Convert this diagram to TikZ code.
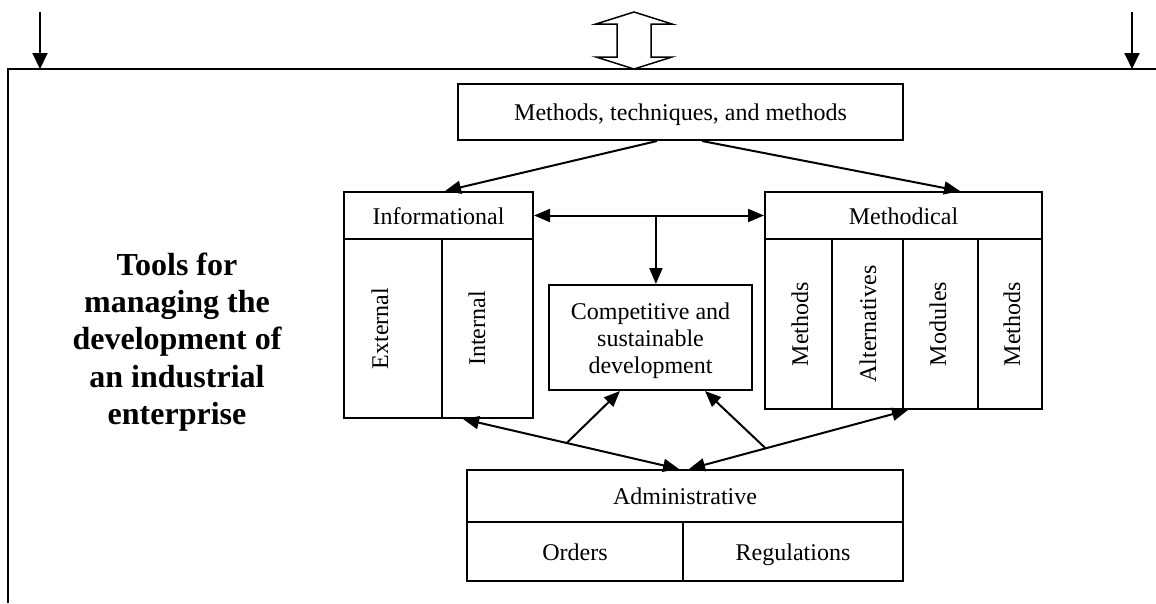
\documentclass[tikz,border=0pt]{standalone}
\usepackage{fontspec}
\setmainfont{Liberation Serif}
\usetikzlibrary{arrows.meta,calc}
\begin{document}
\begin{tikzpicture}[x=1pt,y=-1pt,
  cell/.style={draw, line width=2pt, inner sep=0pt, align=center, font=\fontsize{24}{27}\selectfont},
  one/.style={text height=18pt, text depth=1pt},
  txt/.style={inner sep=0pt, font=\fontsize{24}{27}\selectfont},
  tip/.tip={Triangle[length=16pt,width=13pt]},
  arr/.style={line width=2pt, -tip},
  darr/.style={line width=2pt, tip-tip},
  frame/.style={line width=2pt}]
\useasboundingbox (0,0) rectangle (1156,603);
% outer frame
\coordinate (FB) at (8,603);
\coordinate (FTL) at (8,69);
\coordinate (FTR) at (1156,69);
\draw[frame] (FB) -- (FTL) -- (FTR);
% top arrows
\coordinate (LA) at (40,12);
\coordinate (LB) at (40,69);
\coordinate (RA) at (1132,12);
\coordinate (RB) at (1132,69);
\draw[arr, -{Triangle[length=16pt,width=15pt]}] (LA) -- (LB);
\draw[arr, -{Triangle[length=16pt,width=15pt]}] (RA) -- (RB);
% hollow double arrow
\draw[line width=1.5pt, fill=white, line join=miter] (634,12) -- (672,24) -- (651,24) -- (651,57) -- (672,57) -- (634,69) -- (596,57) -- (617,57) -- (617,24) -- (596,24) -- cycle;
% title
\node[inner sep=0pt, align=center, font=\fontsize{32}{37.25}\selectfont\bfseries] (T) at (177,342) {Tools for\\managing the\\development of\\an industrial\\enterprise};
% top box
\node[cell, one, minimum width=445pt, minimum height=56pt] (TB) at (680.5,112) {Methods, techniques, and methods};
% informational
\node[cell, one, minimum width=189pt, minimum height=47pt] (IH) at (438.5,215.5) {Informational};
\node[cell, minimum width=98pt, minimum height=179pt] (EX) at (393,328.5) {};
\node[cell, minimum width=91pt, minimum height=179pt] (IN) at (487.5,328.5) {};
\node[txt, rotate=90] (EXt) at (380,328.5) {External};
\node[txt, rotate=90] (INt) at (477,328.5) {Internal};
% methodical
\node[cell, one, minimum width=277pt, minimum height=47pt] (MH) at (903.5,215.5) {Methodical};
\node[cell, minimum width=67pt, minimum height=170pt] (M1) at (798.5,324) {};
\node[cell, minimum width=71pt, minimum height=170pt] (M2) at (867.5,324) {};
\node[cell, minimum width=75pt, minimum height=170pt] (M3) at (940.5,324) {};
\node[cell, minimum width=64pt, minimum height=170pt] (M4) at (1010,324) {};
\node[txt, rotate=90] (M1t) at (800,324) {Methods};
\node[txt, rotate=90] (M2t) at (868,324) {Alternatives};
\node[txt, rotate=90] (M3t) at (938,324) {Modules};
\node[txt, rotate=90] (M4t) at (1012,324) {Methods};
% competitive
\node[cell, minimum width=203pt, minimum height=105pt, text width=200pt] (CP) at (650.5,337.5) {};
\node[txt, align=center] (CPt) at (650.5,341) {Competitive and\\sustainable\\development};
% administrative
\node[cell, one, minimum width=436pt, minimum height=52pt] (AH) at (685,496) {Administrative};
\node[cell, one, minimum width=216pt, minimum height=59pt] (OR) at (575,551.5) {Orders};
\node[cell, one, minimum width=220pt, minimum height=59pt] (RG) at (793,551.5) {Regulations};
% connectors
\draw[arr] ([xshift=-23.5pt]TB.south) -- ([xshift=6.5pt]IH.north);
\draw[arr] ([xshift=21.5pt]TB.south) -- ([xshift=56.5pt]MH.north);
\draw[darr] (IH.east) -- (MH.west);
\coordinate (J) at ($(IH.east)!0.53!(MH.west)$);
\draw[arr] (J) -- (J |- CP.north);
\draw[darr] ([xshift=-24.5pt]IN.south) -- coordinate[pos=0.48] (K1) ([xshift=-6pt]AH.north);
\draw[darr] ([xshift=-32.5pt]M3.south) -- coordinate[pos=0.65] (K2) ([xshift=4pt]AH.north);
\draw[arr] (K1) -- ([xshift=-30.5pt]CP.south);
\draw[arr] (K2) -- ([xshift=54.5pt]CP.south);
\end{tikzpicture}
\end{document}
